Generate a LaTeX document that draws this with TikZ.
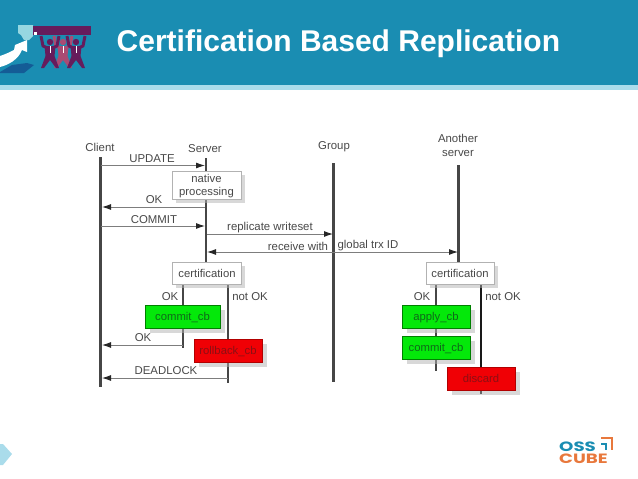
\documentclass[tikz,border=0pt]{standalone}
\usepackage{xcolor}
\usepackage{fontspec}
\setmainfont{Liberation Sans}
\newfontfamily\logofont[FakeStretch=1.35]{Poppins}
\usetikzlibrary{arrows.meta,shadows,backgrounds}
\definecolor{figteal}{RGB}{26,141,178}
\definecolor{figband}{RGB}{170,220,235}
\definecolor{figtext}{RGB}{72,72,72}
\definecolor{figline}{RGB}{70,70,70}
\definecolor{figmsg}{RGB}{125,125,125}
\definecolor{figgreen}{RGB}{4,232,10}
\definecolor{figgreentext}{RGB}{15,105,25}
\definecolor{figred}{RGB}{240,0,5}
\definecolor{figredtext}{RGB}{140,15,20}
\definecolor{figpurple}{RGB}{102,28,92}
\definecolor{figpink}{RGB}{170,75,115}
\definecolor{figcuff}{RGB}{150,215,225}
\definecolor{figarrow}{RGB}{20,92,150}
\definecolor{figorange}{RGB}{232,120,60}
\tikzset{
  msgtip/.tip={Latex[length=9pt,width=6pt,color=black!85]},
  stepbox/.style={draw=black!30, line width=0.7pt, fill=white, minimum height=22pt, inner sep=1pt, align=center, font=\fontsize{11.3}{13}\selectfont, text=figtext, drop shadow={shadow xshift=3.5pt, shadow yshift=-3.5pt, fill=black!30, opacity=0.5}},
  okbox/.style={draw=green!50!black, line width=0.5pt, fill=figgreen, minimum width=68pt, minimum height=23pt, inner sep=1pt, text height=9pt, text depth=1pt, font=\fontsize{11.3}{13}\selectfont, text=figgreentext, drop shadow={shadow xshift=4.5pt, shadow yshift=-4.5pt, fill=black!30, opacity=0.5}},
  failbox/.style={draw=red!70!black, line width=0.5pt, fill=figred, minimum width=68pt, minimum height=23pt, inner sep=1pt, text height=9pt, text depth=1pt, font=\fontsize{11.3}{13}\selectfont, text=figredtext, drop shadow={shadow xshift=4.5pt, shadow yshift=-4.5pt, fill=black!30, opacity=0.5}},
  lifeline/.style={draw=figline, line width=2.3pt},
  msgline/.style={-msgtip, draw=figmsg, line width=0.9pt},
  figlabel/.style={font=\fontsize{11.4}{13}\selectfont, text=figtext, inner sep=0pt, align=center},
  figtitle/.style={font=\fontsize{30}{34}\selectfont\bfseries, text=white, inner sep=0pt, anchor=base west}
}
\begin{document}
\begin{tikzpicture}[x=1pt,y=-1pt]
  \useasboundingbox (0,0) rectangle (638,479);
  \fill[figteal] (0,0) rectangle (638,84.5);
  \fill[figband] (0,84.5) rectangle (638,90);
  \node[figtitle] (title) at (116.5,52) {Certification Based Replication};

  \fill[figarrow] (0,72) -- (12,65) -- (27,63) -- (34,65) -- (24,73) -- (0,73) -- cycle;
  \fill[white] (0,56) .. controls (6,54) and (10,52) .. (14,50) -- (15,45) -- (27,40) -- (27,52) -- (22,50) .. controls (18,60) and (8,65) .. (0,67) -- cycle;
  \foreach \px/\pcol in {63/figpink,50/figpurple,76/figpurple} {
    \draw[\pcol, line width=3pt, line join=round] (\px-9,36) -- (\px-7,46) -- (\px,49) -- (\px+7,46) -- (\px+9,36);
    \fill[\pcol] (\px,42) circle (3.2);
    \fill[\pcol] (\px-5.5,46) -- (\px+5.5,46) -- (\px+4.5,56) -- (\px+9,68) -- (\px+6,68) -- (\px,60) -- (\px-6,68) -- (\px-9,68) -- (\px-4.5,56) -- cycle;
    \draw[white, line width=1pt] (\px,46) -- (\px,53);
  }
  \fill[figcuff] (18,25) -- (33,25) -- (33,36) -- (29,40) -- (24,40) -- (21,35) -- (18,33) -- cycle;
  \fill[figpurple] (33,26) rectangle (91,35);
  \fill[white] (34,32) rectangle (37,35);

  \fill[figband] (0,444) -- (3,444) -- (12,454) -- (3,465) -- (0,465) -- cycle;

  \node[figlabel] (client) at (100,147) {Client};
  \node[figlabel] (server) at (205,149) {Server};
  \node[figlabel] (group) at (334,147) {Group};
  \node[figlabel, font=\fontsize{11.4}{13.5}\selectfont] (another) at (458,145.5) {Another\\server};

  \node[stepbox, minimum width=69pt, minimum height=28pt, text depth=0pt] (nativeBox) at (206.5,185) {native\\processing};
  \node[stepbox, minimum width=69pt] (certServer) at (207,273) {certification};
  \node[stepbox, minimum width=68pt] (certAnother) at (460,273) {certification};

  \node[okbox, minimum width=75pt] (commitServer) at (182.5,316.5) {commit\_cb};
  \node[failbox] (rollbackServer) at (228,350.5) {rollback\_cb};
  \node[okbox] (applyAnother) at (436,316.5) {apply\_cb};
  \node[okbox] (commitAnother) at (436,347.5) {commit\_cb};
  \node[failbox] (discardAnother) at (481,378.5) {discard};

  \coordinate (clientTop) at (100.5,157);
  \coordinate (clientEnd) at (100.5,387);
  \coordinate (serverTop) at (206,158);
  \coordinate (groupTop) at (333.5,163);
  \coordinate (groupEnd) at (333.5,382);
  \coordinate (anotherTop) at (458.5,165);
  \coordinate (okServerEnd) at (183,348);
  \coordinate (notOkServerEnd) at (228,383);
  \coordinate (okAnotherEnd) at (436,371);
  \coordinate (notOkAnotherEnd) at (481,394);

  \coordinate (updateFrom) at (101,165.5);
  \coordinate (updateTo) at (205,165.5);
  \coordinate (okFrom) at (205,207);
  \coordinate (okTo) at (102,207);
  \coordinate (commitFrom) at (101,226);
  \coordinate (commitTo) at (205,226);
  \coordinate (replicateFrom) at (207,234);
  \coordinate (replicateTo) at (333,234);
  \coordinate (receiveFrom) at (207,252);
  \coordinate (receiveTo) at (458,252);
  \coordinate (cbOkFrom) at (183,345);
  \coordinate (cbOkTo) at (102,345);
  \coordinate (deadlockFrom) at (228,378);
  \coordinate (deadlockTo) at (102,378);

  \begin{scope}[on background layer]
    \draw[lifeline] (clientTop) -- (clientEnd);
    \draw[lifeline] (serverTop) -- (serverTop |- certServer.north);
    \draw[lifeline] (groupTop) -- (groupEnd);
    \draw[lifeline] (anotherTop) -- (anotherTop |- certAnother.north);
    \draw[lifeline] (certServer.south -| okServerEnd) -- (okServerEnd);
    \draw[lifeline] (certServer.south -| notOkServerEnd) -- (notOkServerEnd);
    \draw[lifeline] (certAnother.south -| okAnotherEnd) -- (okAnotherEnd);
    \draw[lifeline, draw=black!90] (certAnother.south -| notOkAnotherEnd) -- (notOkAnotherEnd);
  \end{scope}

  \draw[msgline] (updateFrom) -- (updateTo);
  \draw[msgline] (okFrom) -- (okTo);
  \draw[msgline] (commitFrom) -- (commitTo);
  \draw[msgline] (replicateFrom) -- (replicateTo);
  \draw[msgline, msgtip-msgtip] (receiveFrom) -- (receiveTo);
  \draw[msgline] (cbOkFrom) -- (cbOkTo);
  \draw[msgline] (deadlockFrom) -- (deadlockTo);

  \node[figlabel] (updateLabel) at (152,159) {UPDATE};
  \node[figlabel] (okLabel) at (154,200) {OK};
  \node[figlabel] (commitLabel) at (154,220) {COMMIT};
  \node[figlabel] (replicateLabel) at (270,228) {replicate writeset};
  \node[figlabel] (receiveLabel) at (298,246) {receive with};
  \node[figlabel] (globalLabel) at (368,246) {global trx ID};
  \node[figlabel] (certOkServer) at (170,297) {OK};
  \node[figlabel] (certNotOkServer) at (250,297) {not OK};
  \node[figlabel] (cbOkLabel) at (143,338) {OK};
  \node[figlabel] (deadlockLabel) at (166,371) {DEADLOCK};
  \node[figlabel] (certOkAnother) at (422,297) {OK};
  \node[figlabel] (certNotOkAnother) at (503,297) {not OK};

  \node[font=\logofont\bfseries\fontsize{13.5}{13.5}\selectfont, text=figteal, inner sep=0pt, anchor=base west] (logoOss) at (559,451) {OSS};
  \node[font=\logofont\bfseries\fontsize{13.5}{13.5}\selectfont, text=figorange, inner sep=0pt, anchor=base west] (logoCube) at (559,463) {CUBE};
  \draw[figorange, line width=2.6pt] (601,438) -- (612,438) -- (612,450);
  \draw[figteal, line width=2.6pt] (601,444) -- (606,444) -- (606,450);
\end{tikzpicture}
\end{document}
